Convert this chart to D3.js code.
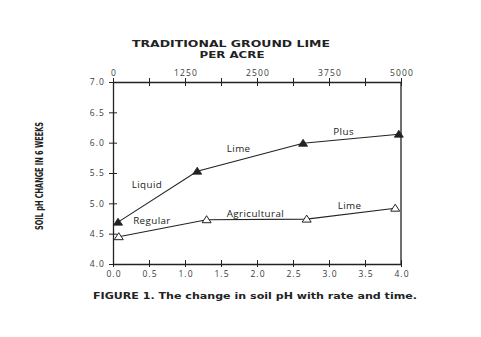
<!DOCTYPE html>
<html>
<head>
<meta charset="utf-8">
<script src="https://cdn.jsdelivr.net/npm/d3@7"></script>
<style>
  html, body { margin: 0; padding: 0; background: #fff; }
  svg { display: block; }
  .tick-label { font-family: "Open Sans", "DejaVu Sans", sans-serif; font-size: 8.5px; letter-spacing: 1.1px; fill: #3a3a3a; }
  .series-label { font-family: "Open Sans", "DejaVu Sans", sans-serif; font-size: 9.8px; letter-spacing: 0.4px; fill: #222; }
  .heading { font-family: "DejaVu Sans", "Liberation Sans", sans-serif; font-weight: bold; fill: #222; }
</style>
</head>
<body>
<svg id="chart" width="481" height="337"></svg>
<script>
// Weeks after application (bottom axis) and pH readings
const liquidWeeks = [0.07, 1.17, 2.64, 3.97];
const liquidPH    = [4.69, 5.53, 5.99, 6.14];
const regularWeeks = [0.08, 1.30, 2.69, 3.92];
const regularPH    = [4.45, 4.73, 4.74, 4.92];

// Axis ticks
const weekTicks = [0, 0.5, 1.0, 1.5, 2.0, 2.5, 3.0, 3.5, 4.0];
const phTicks = [4.0, 4.5, 5.0, 5.5, 6.0, 6.5, 7.0];
const limeTicks = [0, 625, 1250, 1875, 2500, 3125, 3750, 4375, 5000];
const limeLabels = [0, 1250, 2500, 3750, 5000];

// Words written along each line: [text, week, pH]
const liquidWords = [["Liquid", 0.26, 5.25], ["Lime", 1.58, 5.85], ["Plus", 3.06, 6.13]];
const regularWords = [["Regular", 0.28, 4.66], ["Agricultural", 1.58, 4.78], ["Lime", 3.12, 4.90]];

const svg = d3.select("#chart");
const plotLeft = 113, plotRight = 401, plotTop = 82, plotBottom = 264;

const x = d3.scaleLinear().domain([0, 4]).range([plotLeft, plotRight]);
const xTop = d3.scaleLinear().domain([0, 5000]).range([plotLeft, plotRight]);
const y = d3.scaleLinear().domain([4, 7]).range([plotBottom, plotTop]);

const ink = "#222";

// Frame: right side plain line
svg.append("line").attr("x1", plotRight).attr("x2", plotRight).attr("y1", plotTop).attr("y2", plotBottom)
  .attr("stroke", ink).attr("stroke-width", 1.3);

// Bottom axis
const gB = svg.append("g").attr("transform", `translate(0,${plotBottom})`)
  .call(d3.axisBottom(x).tickValues(weekTicks).tickSize(0).tickFormat(d3.format(".1f")));
gB.select(".domain").attr("stroke", ink).attr("stroke-width", 1.3);
gB.selectAll(".tick text").attr("class", "tick-label").attr("dy", "0").attr("y", 13).attr("dx", 0.5)
  .attr("font-size", null).attr("font-family", null).attr("fill", null);
gB.selectAll(".tick").append("line").attr("y1", -4).attr("y2", 3).attr("stroke", ink).attr("stroke-width", 1);

// Left axis
const gL = svg.append("g").attr("transform", `translate(${plotLeft},0)`)
  .call(d3.axisLeft(y).tickValues(phTicks).tickSize(0).tickFormat(d3.format(".1f")));
gL.select(".domain").attr("stroke", ink).attr("stroke-width", 1.3);
gL.selectAll(".tick text").attr("class", "tick-label").attr("x", -8)
  .attr("font-size", null).attr("font-family", null).attr("fill", null);
gL.selectAll(".tick").append("line").attr("x1", -4).attr("x2", 4).attr("stroke", ink).attr("stroke-width", 1);

// Top axis: lime rate per acre
const gT = svg.append("g").attr("transform", `translate(0,${plotTop})`)
  .call(d3.axisTop(xTop).tickValues(limeTicks).tickSize(0)
    .tickFormat(d => limeLabels.includes(d) ? d3.format("d")(d) : ""));
gT.select(".domain").attr("stroke", ink).attr("stroke-width", 1.3);
gT.selectAll(".tick text").attr("class", "tick-label").attr("y", -6).attr("dx", 0.5)
  .attr("font-size", null).attr("font-family", null).attr("fill", null);
gT.selectAll(".tick").append("line").attr("y1", -4).attr("y2", 4).attr("stroke", ink).attr("stroke-width", 1);

// Series lines
const line = d3.line().x(d => x(d[0])).y(d => y(d[1]));
const liquid = d3.zip(liquidWeeks, liquidPH);
const regular = d3.zip(regularWeeks, regularPH);

[liquid, regular].forEach(s => {
  svg.append("path").datum(s).attr("d", line)
    .attr("fill", "none").attr("stroke", ink).attr("stroke-width", 1.1);
});

// Triangle markers
const tri = (cx, cy) => `M${cx},${cy - 4}L${cx + 4.5},${cy + 3}L${cx - 4.5},${cy + 3}Z`;
svg.selectAll(".liq").data(liquid).join("path")
  .attr("d", d => tri(x(d[0]), y(d[1]))).attr("fill", ink).attr("stroke", ink).attr("stroke-width", 0.8);
svg.selectAll(".reg").data(regular).join("path")
  .attr("d", d => tri(x(d[0]), y(d[1]))).attr("fill", "#fff").attr("stroke", ink).attr("stroke-width", 1);

// Words along the lines
svg.selectAll(".w").data(liquidWords.concat(regularWords)).join("text")
  .attr("class", "series-label")
  .attr("x", d => x(d[1])).attr("y", d => y(d[2]))
  .text(d => d[0]);

// Top heading
svg.append("text").attr("class", "heading").attr("x", 231).attr("y", 47)
  .attr("text-anchor", "middle").attr("font-size", 9.5)
  .attr("textLength", 198).attr("lengthAdjust", "spacingAndGlyphs")
  .text("TRADITIONAL GROUND LIME");
svg.append("text").attr("class", "heading").attr("x", 232).attr("y", 58)
  .attr("text-anchor", "middle").attr("font-size", 9.5)
  .attr("textLength", 65).attr("lengthAdjust", "spacingAndGlyphs")
  .text("PER ACRE");

// Y-axis title
svg.append("text").attr("class", "heading")
  .attr("transform", "translate(43,176) rotate(-90)")
  .attr("text-anchor", "middle").attr("font-size", 9.8)
  .attr("textLength", 108).attr("lengthAdjust", "spacingAndGlyphs")
  .text("SOIL pH CHANGE IN 6 WEEKS");

// Caption
svg.append("text").attr("class", "heading").attr("x", 93).attr("y", 299)
  .attr("font-size", 9.5)
  .attr("textLength", 324).attr("lengthAdjust", "spacingAndGlyphs")
  .text("FIGURE 1. The change in soil pH with rate and time.");
</script>
</body>
</html>
